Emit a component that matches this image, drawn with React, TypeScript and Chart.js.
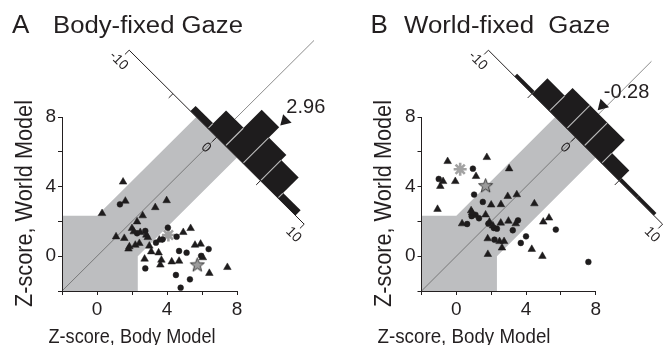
import React, { useEffect, useRef } from 'react';
import { Chart, registerables } from 'chart.js';

Chart.register(...registerables);

// ---------- shared axis values ----------
const AXIS_MIN = -2;
const AXIS_MAX = 8;
const TICK_STEP = 2;
const LABELED_TICKS = [0, 4, 8];
const SIG_BOUND = 2.33; // edge of the grey (non-significant) zone
const HIST_AXIS_SUM = 13.68; // histogram axis lies on x + y = this
const HIST_TICKS = [-10, -5, 0, 5, 10];
const HIST_LABEL_VALUES = [-10, 0, 10];
const HIST_LABEL_TEXT = ['-10', '0', '10'];

// ---------- panel A : Body-fixed Gaze ----------
const A_TRI_X = [1.49, 1.62, 0.29, 3.33, 3.98, 2.61, 2.29, 2.0, 2.1, 2.47, 2.82, 2.9, 1.09, 1.56, 2.19, 1.85, 1.8, 2.42, 2.99, 3.1, 3.52, 3.56, 4.93, 5.35, 5.6, 5.92, 2.72, 3.68, 3.62, 4.27, 4.69, 6.05, 6.42, 7.45];
const A_TRI_Y = [4.27, 3.17, 2.46, 2.8, 3.2, 2.33, 1.98, 1.6, 1.41, 1.37, 1.22, 1.08, 1.12, 1.03, 0.64, 0.55, 0.42, 0.74, 0.59, 0.26, 0.2, 0.93, 1.37, 1.6, 0.64, 0.7, -0.16, -0.22, -0.5, -0.32, -0.28, -0.08, -0.98, -0.64];
const A_DOT_X = [1.31, 2.29, 2.76, 3.37, 3.75, 4.05, 4.55, 4.69, 5.12, 6.38, 5.95, 2.76, 4.51, 5.31, 4.78];
const A_DOT_Y = [2.98, 1.32, 1.45, 0.78, 0.97, 1.64, 1.12, 0.3, 0.2, 0.41, 0.02, -0.7, -1.08, -1.33, -1.81];
const A_ASTERISK_X = [4.08];
const A_ASTERISK_Y = [1.22];
const A_STAR_X = [5.73];
const A_STAR_Y = [-0.5];
const A_HIST_EDGES = [-3, -1, 1, 3, 5, 7, 9];
const A_HIST_COUNTS = [2, 7, 14, 10, 8, 2];
const A_MEAN = 2.96;

// ---------- panel B : World-fixed Gaze ----------
const B_TRI_X = [-0.5, 1.75, 1.13, -0.76, -0.92, -0.06, 3.03, -1.08, 2.0, 2.56, 2.95, 3.47, 4.48, 0.85, 0.9, 1.68, 0.33, 1.9, 2.1, 2.55, 2.99, 3.41, 4.99, 5.32, 1.8, 2.48, 2.74, 2.62, 1.81, 4.33, 4.94];
const B_TRI_Y = [5.45, 5.68, 4.59, 4.3, 4.02, 4.3, 5.03, 2.7, 2.95, 2.97, 3.44, 3.54, 3.02, 2.62, 2.5, 2.38, 1.87, 1.97, 1.75, 1.91, 2.02, 1.87, 1.97, 2.2, 1.01, 0.85, 0.85, 0.48, 0.11, 0.4, 0.0];
const B_DOT_X = [0.95, -1.01, 1.02, 1.52, 0.88, 1.1, 1.3, 0.62, 1.84, 2.15, 2.33, 3.54, 3.24, 5.71, 2.19, 3.7, 4.0, 7.58];
const B_DOT_Y = [5.03, 4.44, 3.54, 3.12, 2.3, 2.38, 2.18, 1.85, 1.87, 1.62, 1.58, 2.06, 1.49, 1.53, 0.95, 0.76, 1.14, -0.33];
const B_ASTERISK_X = [0.22];
const B_ASTERISK_Y = [5.0];
const B_STAR_X = [1.68];
const B_STAR_Y = [4.05];
const B_HIST_EDGES = [-7, -5, -3, -1, 1, 3, 5, 7, 9];
const B_HIST_COUNTS = [1, 6, 9, 9, 9, 4, 1, 1];
const B_MEAN = -0.28;

// ---------- style ----------
const FONT = '"Liberation Sans", Arial, Helvetica, sans-serif';
const INK = '#231f20';
const BAND = '#bdbec0';
const BAR = '#1e1c1d';
const HIST_SPREAD = 0.5; // data units (per coordinate) per histogram unit
const HIST_COUNT_SCALE = 0.148; // data units (per coordinate) per count

Chart.defaults.font.family = FONT;

const toPts = (xs: number[], ys: number[]) => xs.map((x, i) => ({ x, y: ys[i] }));

function makeStarImage() {
  const c = document.createElement('canvas');
  c.width = 17;
  c.height = 17;
  const g = c.getContext('2d')!;
  const cx = 8.5, cy = 8.8, R = 7.4, r = 3.1;
  g.beginPath();
  for (let i = 0; i < 10; i++) {
    const rad = i % 2 === 0 ? R : r;
    const a = -Math.PI / 2 + (i * Math.PI) / 5;
    const px = cx + rad * Math.cos(a), py = cy + rad * Math.sin(a);
    if (i === 0) g.moveTo(px, py); else g.lineTo(px, py);
  }
  g.closePath();
  g.fillStyle = '#9c9c9c';
  g.fill();
  g.strokeStyle = '#2b2b2b';
  g.lineWidth = 0.9;
  g.stroke();
  return c;
}

function drawText(ctx: CanvasRenderingContext2D, text: string, x: number, y: number, size: number, opts: any = {}) {
  ctx.save();
  ctx.font = `${size}px ${FONT}`;
  ctx.fillStyle = INK;
  ctx.textAlign = opts.align || 'left';
  ctx.textBaseline = opts.baseline || 'alphabetic';
  const w = ctx.measureText(text).width;
  const sx = opts.width ? opts.width / w : 1;
  ctx.translate(x, y);
  if (opts.rot) ctx.rotate(opts.rot);
  ctx.scale(sx, 1);
  ctx.fillText(text, 0, 0);
  ctx.restore();
}

function makeDecor(cfg: any) {
  return {
    id: 'decor' + cfg.letter,
    beforeDraw(chart: any) {
      const ctx: CanvasRenderingContext2D = chart.ctx;
      const xs = chart.scales.x, ys = chart.scales.y;
      const P = (x: number, y: number) => ({ x: xs.getPixelForValue(x), y: ys.getPixelForValue(y) });
      const half = HIST_AXIS_SUM / 2;
      const H = (v: number, c = 0) => P(half + v * HIST_SPREAD + c * HIST_COUNT_SCALE, half - v * HIST_SPREAD + c * HIST_COUNT_SCALE);
      const T = SIG_BOUND, S = HIST_AXIS_SUM, lo = AXIS_MIN;

      // grey non-significant zone
      const poly = [
        [lo, lo], [T, lo], [T, 0], [(S + T) / 2, (S - T) / 2],
        [(S - T) / 2, (S + T) / 2], [0, T], [lo, T],
      ];
      ctx.save();
      ctx.beginPath();
      poly.forEach(([x, y], i) => {
        const p = P(x, y);
        if (i === 0) ctx.moveTo(p.x, p.y); else ctx.lineTo(p.x, p.y);
      });
      ctx.closePath();
      ctx.fillStyle = BAND;
      ctx.fill();

      // unity diagonal
      const d0 = P(lo, lo), d1 = P(cfg.diagEnd, cfg.diagEnd);
      ctx.beginPath();
      ctx.moveTo(d0.x, d0.y);
      ctx.lineTo(d1.x, d1.y);
      ctx.strokeStyle = '#5a5a5a';
      ctx.lineWidth = 0.7;
      ctx.stroke();

      // unit vectors in pixel space
      const o = H(0), a1 = H(1), n1 = H(0, 1);
      let ux = a1.x - o.x, uy = a1.y - o.y;
      const ul = Math.hypot(ux, uy); ux /= ul; uy /= ul;
      let nx = n1.x - o.x, ny = n1.y - o.y;
      const nl = Math.hypot(nx, ny); nx /= nl; ny /= nl;

      // histogram bars
      const edges: number[] = cfg.edges, counts: number[] = cfg.counts;
      ctx.fillStyle = BAR;
      counts.forEach((c, i) => {
        const q = [H(edges[i]), H(edges[i + 1]), H(edges[i + 1], c), H(edges[i], c)];
        ctx.beginPath();
        q.forEach((p, k) => (k === 0 ? ctx.moveTo(p.x, p.y) : ctx.lineTo(p.x, p.y)));
        ctx.closePath();
        ctx.fill();
      });
      // light separators between bins
      ctx.strokeStyle = '#b9b9b9';
      ctx.lineWidth = 1.1;
      for (let i = 1; i < counts.length; i++) {
        const h = Math.min(counts[i - 1], counts[i]);
        if (h < 2) continue;
        const p0 = H(edges[i], 0.25), p1 = H(edges[i], h - 0.15);
        ctx.beginPath();
        ctx.moveTo(p0.x, p0.y);
        ctx.lineTo(p1.x, p1.y);
        ctx.stroke();
      }

      // histogram axis
      const e0 = H(-10), e1 = H(10);
      ctx.strokeStyle = INK;
      ctx.lineWidth = 1;
      ctx.beginPath();
      ctx.moveTo(e0.x, e0.y);
      ctx.lineTo(e1.x, e1.y);
      ctx.stroke();
      HIST_TICKS.forEach((t) => {
        const p = H(t);
        ctx.beginPath();
        ctx.moveTo(p.x, p.y);
        ctx.lineTo(p.x - nx * 6, p.y - ny * 6);
        ctx.stroke();
      });
      const rot = Math.atan2(uy, ux);
      HIST_LABEL_VALUES.forEach((t, i) => {
        const p = H(t);
        drawText(ctx, HIST_LABEL_TEXT[i], p.x - nx * 15, p.y - ny * 15, 14, { align: 'center', baseline: 'middle', rot });
      });

      // mean marker
      const bin = edges.findIndex((e, i) => i < counts.length && cfg.mean >= e && cfg.mean < edges[i + 1]);
      const cTop = bin >= 0 ? counts[bin] : 0;
      const m = H(cfg.mean, cTop);
      const ax = m.x + nx * 2, ay = m.y + ny * 2;
      const bx = ax + nx * 10, by = ay + ny * 10;
      ctx.beginPath();
      ctx.moveTo(ax, ay);
      ctx.lineTo(bx + ux * 6, by + uy * 6);
      ctx.lineTo(bx - ux * 6, by - uy * 6);
      ctx.closePath();
      ctx.fillStyle = BAR;
      ctx.fill();
      drawText(ctx, cfg.meanText, bx - 1, by - 11, 20, { baseline: 'middle' });
      ctx.restore();
    },
    afterDraw(chart: any) {
      const ctx: CanvasRenderingContext2D = chart.ctx;
      drawText(ctx, cfg.letter, cfg.letterX, 33.3, 26);
      drawText(ctx, cfg.title, cfg.titleX, 33.3, 23.5, { width: cfg.titleW });
      drawText(ctx, 'Z-score, World Model', cfg.yTitleX, 203.5, 23, { align: 'center', rot: -Math.PI / 2, width: 207 });
      drawText(ctx, 'Z-score, Body Model', cfg.xTitleCX, 343.3, 21, { align: 'center', width: cfg.xTitleW });
    },
  };
}

function buildConfig(cfg: any) {
  const starImg = makeStarImage();
  const tickCfg = {
    min: AXIS_MIN,
    max: AXIS_MAX,
    grid: { display: true, drawOnChartArea: false, drawTicks: true, tickLength: 4, color: INK, lineWidth: 1 },
    border: { display: true, color: INK, width: 1 },
    title: { display: false },
  };
  const tickLabels = (v: number) => (LABELED_TICKS.includes(v) ? String(v) : '');
  return {
    type: 'scatter',
    data: {
      datasets: [
        { data: toPts(cfg.triX, cfg.triY), pointStyle: 'triangle', pointRadius: 4.4, backgroundColor: BAR, borderColor: BAR, borderWidth: 0.5 },
        { data: toPts(cfg.dotX, cfg.dotY), pointStyle: 'circle', pointRadius: 2.9, backgroundColor: BAR, borderColor: BAR, borderWidth: 0.5 },
        { data: toPts(cfg.astX, cfg.astY), pointStyle: 'star', pointRadius: 6.5, backgroundColor: 'rgba(0,0,0,0)', borderColor: '#a2a2a2', borderWidth: 2.6 },
        { data: toPts(cfg.starX, cfg.starY), pointStyle: starImg, pointRadius: 6 },
      ],
    },
    options: {
      animation: false,
      responsive: false,
      devicePixelRatio: 1,
      events: [],
      layout: { padding: { left: 0, right: cfg.width - cfg.chartRight, top: 117, bottom: 0 } },
      plugins: { legend: { display: false }, tooltip: { enabled: false } },
      scales: {
        x: {
          type: 'linear',
          ...tickCfg,
          ticks: { stepSize: TICK_STEP, autoSkip: false, maxRotation: 0, padding: 3, color: INK, font: { size: 19, family: FONT }, callback: tickLabels },
          afterFit: (s: any) => { s.height = 54; },
        },
        y: {
          type: 'linear',
          ...tickCfg,
          ticks: { stepSize: TICK_STEP, autoSkip: false, padding: 2, color: INK, font: { size: 19, family: FONT }, callback: tickLabels },
          afterFit: (s: any) => { s.width = cfg.yAxisWidth; },
        },
      },
    },
    plugins: [makeDecor(cfg)],
  };
}

const PANEL_A = {
  letter: 'A', title: 'Body-fixed Gaze', left: 0, width: 334, yAxisWidth: 62, chartRight: 237, diagEnd: 12.4,
  letterX: 12, titleX: 53, titleW: 190, yTitleX: 31.5, xTitleCX: 132, xTitleW: 167, meanText: String(A_MEAN),
  triX: A_TRI_X, triY: A_TRI_Y, dotX: A_DOT_X, dotY: A_DOT_Y, astX: A_ASTERISK_X, astY: A_ASTERISK_Y,
  starX: A_STAR_X, starY: A_STAR_Y, edges: A_HIST_EDGES, counts: A_HIST_COUNTS, mean: A_MEAN,
};
const PANEL_B = {
  letter: 'B', title: 'World-fixed  Gaze', left: 334, width: 333, yAxisWidth: 87.5, chartRight: 261.7, diagEnd: 11.2,
  letterX: 36.5, titleX: 70, titleW: 206, yTitleX: 56.5, xTitleCX: 130, xTitleW: 173, meanText: String(B_MEAN),
  triX: B_TRI_X, triY: B_TRI_Y, dotX: B_DOT_X, dotY: B_DOT_Y, astX: B_ASTERISK_X, astY: B_ASTERISK_Y,
  starX: B_STAR_X, starY: B_STAR_Y, edges: B_HIST_EDGES, counts: B_HIST_COUNTS, mean: B_MEAN,
};

function Panel({ cfg }: { cfg: any }) {
  const ref = useRef<HTMLCanvasElement>(null);
  useEffect(() => {
    const chart = new Chart(ref.current as HTMLCanvasElement, buildConfig(cfg) as any);
    return () => chart.destroy();
  }, [cfg]);
  return (
    <canvas
      ref={ref}
      width={cfg.width}
      height={345}
      style={{ position: 'absolute', left: cfg.left, top: 0, width: cfg.width, height: 345, display: 'block' }}
    />
  );
}

export default function App() {
  return (
    <div style={{ position: 'fixed', left: 0, top: 0, width: 667, height: 345, background: '#ffffff', overflow: 'hidden' }}>
      <Panel cfg={PANEL_A} />
      <Panel cfg={PANEL_B} />
    </div>
  );
}
